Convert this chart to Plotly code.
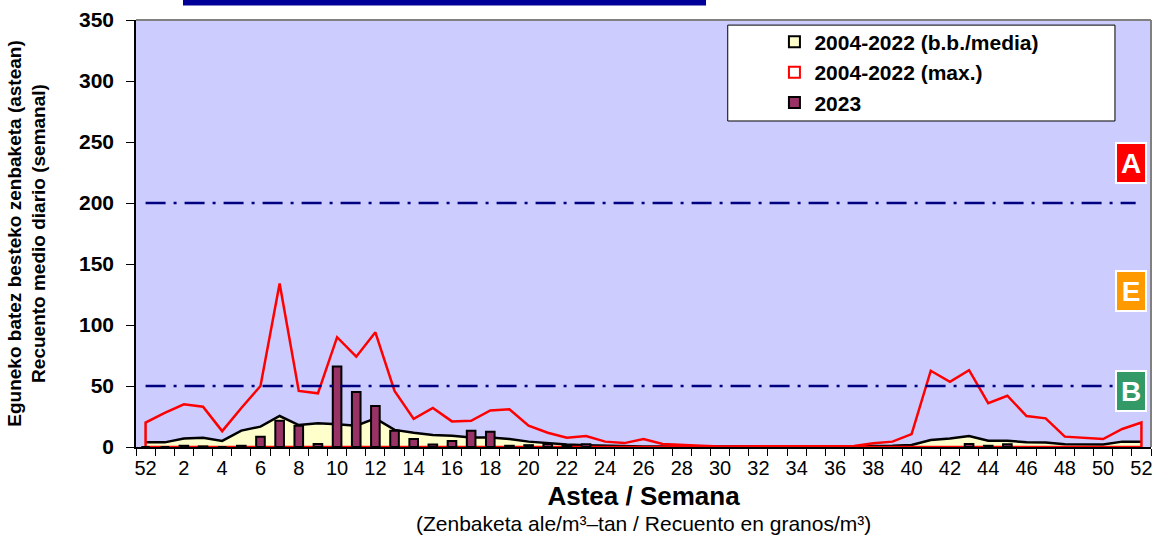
import plotly.graph_objects as go

# ---- data ----
week_labels = ["52"] + [str(w) for w in range(1, 53)]          # 53 categories: 52,1..52
mean_0422 = [3.8, 3.8, 7, 7.6, 5, 13.4, 16.7, 25.4, 18, 19.4, 18.6, 17.5, 23.5, 14, 11.7,
             9.8, 9.3, 7.7, 7.7, 6.5, 4.4, 3, 2, 1.5, 1, 0.8, 0.5, 0.4, 0.3, 0.3, 0.3, 0.3,
             0.3, 0.3, 0.3, 0.3, 0.4, 0.5, 0.8, 1, 1.6, 5.7, 7, 9, 5.2, 5.2, 3.8, 3.6, 2.2,
             2, 2, 4.4, 4.4]
max_0422 = [20, 28, 35, 33, 13, 32, 50, 134, 46, 44, 90, 74, 94, 46, 23, 32, 21, 21.5, 30,
            31, 17.5, 11.7, 7.6, 9, 4.4, 3.2, 6.5, 2.5, 1.5, 1, 0.5, 0.5, 1, 1, 0.5, 0.5,
            0.5, 0.8, 3, 4.4, 10.6, 62.5, 53.5, 63, 36, 42, 25.4, 23.5, 8.5, 7.3, 6.5,
            14.8, 20]
y2023 = [0, 0, 1, 0.5, 0, 1, 8.5, 21.5, 17.5, 2.5, 66, 45, 33.6, 13.4, 6.5, 2, 5, 13.4,
         12.6, 1, 1.5, 2.5, 1, 2.2, None, None, None, None, None, None, None, None, None,
         None, None, None, None, None, None, None, None, None, None, 2.5, 1, 2.2, None,
         None, None, None, None, None, None]
y_ticks = [0, 50, 100, 150, 200, 250, 300, 350]
thresholds = [200, 50]
levels = [("A", 233, "#FF0000"), ("E", 127.5, "#FF9900"), ("B", 46, "#339966")]

idx = list(range(len(week_labels)))
tick_text = [lab if i % 2 == 0 else "" for i, lab in enumerate(week_labels)]

AX_FONT = "Arial, Liberation Sans, sans-serif"
NARROW = "Liberation Sans Narrow, Arial Narrow, Liberation Sans, sans-serif"
XR = [-0.5, 52.5]
YR = [0, 350]

fig = go.Figure()

# mean area
fig.add_trace(go.Scatter(x=idx, y=mean_0422, mode="lines", fill="tozeroy",
                         fillcolor="#FFFFCC", line=dict(color="black", width=2.5),
                         showlegend=False, hoverinfo="skip"))
# max outline (closed polygon like Excel area border)
fig.add_trace(go.Scatter(x=[idx[0]] + idx + [idx[-1], idx[0]],
                         y=[0] + max_0422 + [0, 0],
                         mode="lines", line=dict(color="#FF0000", width=2.5),
                         showlegend=False, hoverinfo="skip"))
# 2023 bars on an overlaying axis pair so they sit above the areas
fig.add_trace(go.Bar(x=idx, y=y2023, width=0.45, xaxis="x2", yaxis="y2",
                     marker=dict(color="#993366", line=dict(color="black", width=2)),
                     showlegend=False))

# legend proxies
legend_items = [("2004-2022 (b.b./media)", "#FFFFCC", "black"),
                ("2004-2022 (max.)", "white", "#FF0000"),
                ("2023", "#993366", "black")]
for k, (name, fc, lc) in enumerate(legend_items):
    fig.add_trace(go.Scatter(x=[None], y=[None], mode="markers", name=name,
                             legendgroup=f"g{k}",
                             marker=dict(symbol="square", size=11, color=fc,
                                         line=dict(color=lc, width=2))))

shapes = []
for t in thresholds:
    shapes.append(dict(type="line", xref="x", yref="y", x0=0, x1=51.7, y0=t, y1=t,
                       line=dict(color="#000080", width=2.5, dash="20px,8px,3px,8px")))
# legend box
shapes.append(dict(type="rect", xref="paper", yref="paper", x0=0.583, x1=0.9645,
                   y0=0.7635, y1=0.988, fillcolor="white",
                   line=dict(color="black", width=1), layer="above"))
# top banner (cut off title)
shapes.append(dict(type="rect", xref="paper", yref="paper", x0=0.0463, x1=0.5616,
                   y0=1.034, y1=1.06, fillcolor="#000099", line=dict(width=0)))
# plot border (top/right grey)
shapes.append(dict(type="line", xref="paper", yref="paper", x0=0, x1=1, y0=1, y1=1,
                   line=dict(color="#808080", width=2)))
shapes.append(dict(type="line", xref="paper", yref="paper", x0=1, x1=1, y0=0, y1=1,
                   line=dict(color="#808080", width=2)))

annotations = []
for letter, yv, col in levels:
    annotations.append(dict(xref="paper", yref="y", x=0.98, y=yv, text=f"<b>{letter}</b>",
                            showarrow=False, font=dict(family=AX_FONT, size=28, color="white"),
                            bgcolor=col, bordercolor="white", borderwidth=2,
                            width=26, height=36, xanchor="center", yanchor="middle"))
# x-axis subtitle
annotations.append(dict(xref="paper", yref="paper", x=0.5, y=-0.178, showarrow=False,
                        text="(Zenbaketa ale/m³–tan / Recuento en granos/m³)",
                        font=dict(family=NARROW, size=21, color="black"),
                        xanchor="center", yanchor="middle"))

fig.update_layout(
    width=1159, height=539,
    margin=dict(l=136, r=8, t=20, b=92, autoexpand=False),
    paper_bgcolor="white", plot_bgcolor="#CCCCFF",
    barmode="overlay",
    shapes=shapes, annotations=annotations,
    showlegend=True,
    legend=dict(x=0.629, y=0.996, xanchor="left", yanchor="top",
                bgcolor="rgba(0,0,0,0)", borderwidth=0,
                font=dict(family=AX_FONT, size=21, color="black", weight="bold"),
                traceorder="grouped", tracegroupgap=0),
    xaxis=dict(range=XR, tickmode="array", tickvals=idx, ticktext=tick_text,
               ticks="", showgrid=False, zeroline=False, showline=True, automargin=False,
               linecolor="black", linewidth=1.5, ticklabelstandoff=2,
               tickfont=dict(family=NARROW, size=20, color="black"),
               minor=dict(tick0=-0.5, dtick=1, ticks="outside", ticklen=7,
                          tickcolor="black", tickwidth=1, showgrid=False),
               title=dict(text="<b>Astea / Semana</b>",
                          font=dict(family=AX_FONT, size=26, color="black"), standoff=9)),
    yaxis=dict(range=YR, tickmode="array", tickvals=y_ticks,
               ticks="outside", ticklen=8, tickcolor="black",
               showgrid=False, zeroline=False, showline=True, automargin=False,
               linecolor="black", linewidth=1.5, ticklabelstandoff=8,
               tickfont=dict(family=AX_FONT, size=21, color="black", weight="bold"),
               title=dict(text="Eguneko batez besteko zenbaketa (astean)<br>"
                               "Recuento medio diario (semanal)",
                          font=dict(family=AX_FONT, size=19, color="black", weight="bold"),
                          standoff=28)),
    xaxis2=dict(range=XR, overlaying="x", visible=False),
    yaxis2=dict(range=YR, overlaying="y", visible=False),
)

fig.write_html("out.html", config={"displayModeBar": False},
               post_script="document.body.style.margin='0';")
